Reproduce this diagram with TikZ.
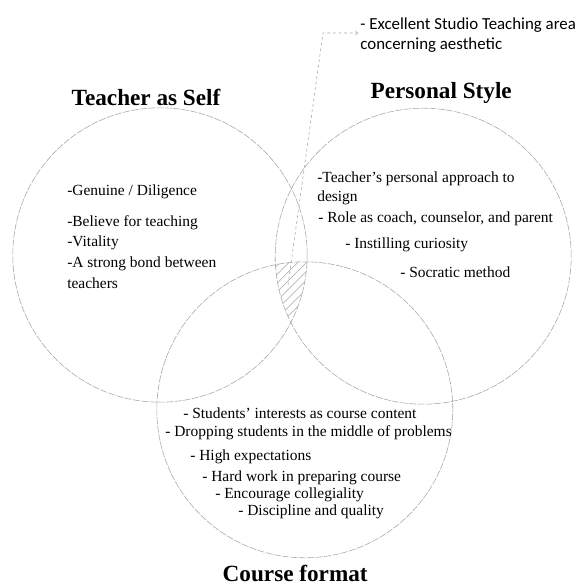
\documentclass[tikz,border=0pt]{standalone}
\usepackage{fontspec}
\setmainfont{Liberation Serif}
\newfontfamily\notefont{Carlito}

\begin{document}
\begin{tikzpicture}[
    venn/.style={draw=gray!70, thin, dash pattern=on 5pt off 1pt},
    item/.style={anchor=west, inner sep=0pt, font=\fontsize{11}{12}\selectfont},
    title/.style={font=\fontsize{16.5}{18}\selectfont\bfseries},
    note/.style={anchor=west, align=left, inner sep=1.5pt, font=\notefont\fontsize{12}{14.2}\selectfont}
  ]
    \useasboundingbox (0,0) rectangle (14.55,14.625);
    \draw[venn] (4,8.25) circle (3.68);
    \draw[venn] (10.58,8.22) circle (3.7);
    \draw[venn] (7.62,4.38) circle (3.7);
    % hatched area shared by all three
    \begin{scope}
      \clip (4,8.25) circle (3.68);
      \clip (10.58,8.22) circle (3.7);
      \clip (7.62,4.38) circle (3.7);
      \foreach \i in {0,...,20}{
        \draw[gray!70, thin] (3.5+0.22*\i,5) -- ++(5,5);
      }
    \end{scope}
    \node[title] (self) at (3.65,12.2) {Teacher as Self};
    \node[title] (style) at (11.03,12.3) {Personal Style};
    \node[title] (format) at (7.38,0.28) {Course format};
    \foreach \y/\t [count=\i] in {9.825/{-Genuine / Diligence}, 9.05/{-Believe for teaching},
        8.55/{-Vitality}, 8.025/{-A strong bond between}, 7.55/{teachers}}{
        \node[item] (self\i) at (1.675,\y) {\t};
    }
    \foreach \x/\y/\t [count=\i] in {7.925/10.15/{-Teacher's personal approach to}, 7.925/9.675/{design},
        7.95/9.15/{- Role as coach, counselor, and parent}, 8.625/8.5/{- Instilling curiosity},
        10.0/7.825/{- Socratic method}}{
        \node[item] (style\i) at (\x,\y) {\t};
    }
    \foreach \x/\y/\t [count=\i] in {4.575/4.3/{- Students' interests as course content},
        4.125/3.8/{- Dropping students in the middle of problems}, 4.75/3.2/{- High expectations},
        5.05/2.675/{- Hard work in preparing course}, 5.375/2.25/{- Encourage collegiality},
        5.95/1.825/{- Discipline and quality}}{
        \node[item] (format\i) at (\x,\y) {\t};
    }
    \node[note] (excellent) at (8.95,13.75) {- Excellent Studio Teaching area\\concerning aesthetic};
    \coordinate (tail) at (7.2,7.5);
    \coordinate (bend) at (8.075,13.8);
    \draw[gray!70, thin, dash pattern=on 2pt off 2pt, ->] (tail) -- (bend) -- (excellent.west |- bend);
\end{tikzpicture}
\end{document}
